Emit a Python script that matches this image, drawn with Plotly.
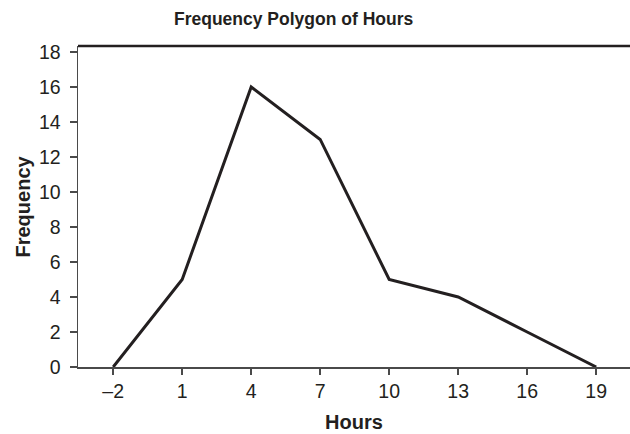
import plotly.graph_objects as go

hours = [-2, 1, 4, 7, 10, 13, 16, 19]
frequency = [0, 5, 16, 13, 5, 4, 2, 0]
x_tick_vals = [-2, 1, 4, 7, 10, 13, 16, 19]
x_tick_text = ["–2", "1", "4", "7", "10", "13", "16", "19"]
y_tick_vals = [0, 2, 4, 6, 8, 10, 12, 14, 16, 18]

fig = go.Figure()
fig.add_trace(go.Scatter(x=hours, y=frequency, mode="lines",
                         line=dict(color="#231f20", width=3), showlegend=False))

tick_font = dict(family="Liberation Sans, Arial, sans-serif", size=19.5, color="#231f20")
label_family = "Liberation Sans, Arial, sans-serif"

fig.update_layout(
    width=630, height=434,
    margin=dict(l=78, r=0, t=46, b=67),
    paper_bgcolor="white", plot_bgcolor="white",
    xaxis=dict(range=[-3.53, 20.47], tickvals=x_tick_vals, ticktext=x_tick_text,
               ticks="outside", ticklen=6, tickwidth=1.5, tickcolor="#4a4a4a",
               showline=True, linecolor="#4a4a4a", linewidth=1.5,
               showgrid=False, zeroline=False, tickfont=tick_font, fixedrange=True),
    yaxis=dict(range=[0, 18.34], tickvals=y_tick_vals,
               ticks="outside", ticklen=7, tickwidth=1.5, tickcolor="#4a4a4a",
               ticklabelstandoff=5,
               showline=True, linecolor="#4a4a4a", linewidth=1.5,
               showgrid=False, zeroline=False, tickfont=tick_font, fixedrange=True),
    shapes=[dict(type="line", xref="paper", yref="paper", x0=0, x1=1, y0=1, y1=1,
                 line=dict(color="#231f20", width=2.5))],
    annotations=[
        dict(text="<b>Frequency Polygon of Hours</b>", xref="paper", yref="paper",
             x=0.390, y=1, yshift=27, xanchor="center", yanchor="middle",
             showarrow=False, font=dict(family=label_family, size=17.5, color="#231f20")),
        dict(text="<b>Hours</b>", xref="paper", yref="paper",
             x=0.5, y=0, yshift=-55, xanchor="center", yanchor="middle",
             showarrow=False, font=dict(family=label_family, size=20, color="#231f20")),
        dict(text="<b>Frequency</b>", xref="paper", yref="paper",
             x=0, xshift=-56, y=0.5, xanchor="center", yanchor="middle", textangle=-90,
             showarrow=False, font=dict(family=label_family, size=20, color="#231f20")),
    ],
)

fig.write_html(
    "out.html",
    config={"displayModeBar": False, "staticPlot": True},
    post_script="document.body.style.margin='0';document.body.style.overflow='hidden';",
)
